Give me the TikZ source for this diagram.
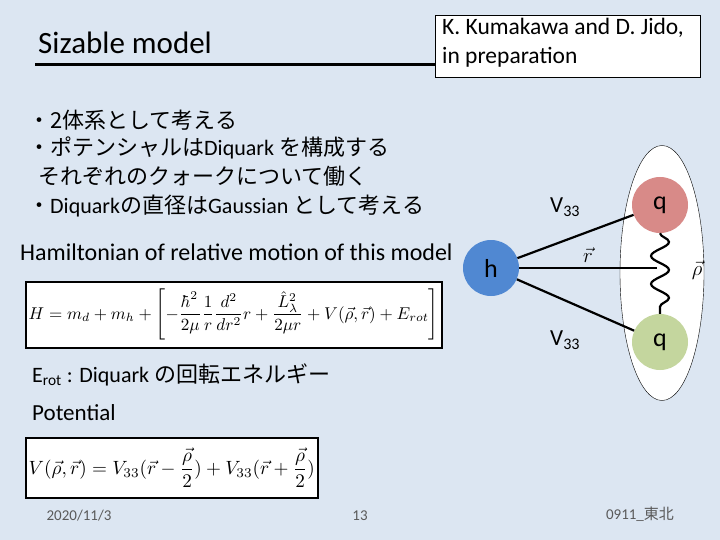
\documentclass[tikz,border=0pt]{standalone}
\usepackage{fontspec}
\setmainfont{Carlito}
\newfontfamily\jp{Noto Sans CJK JP}
\usepackage{amsmath,graphicx}
\usetikzlibrary{decorations.pathmorphing,shapes.geometric}
\begin{document}
\begin{tikzpicture}[x=1pt,y=-1pt,
  txt/.style={anchor=west,inner sep=0pt,font=\fontsize{23}{28}\selectfont},
  eqbox/.style={draw,line width=1.5pt,fill=white,inner sep=3pt,anchor=north west},
  ball/.style={circle,minimum size=56pt,inner sep=0pt,font=\fontsize{26}{28}\selectfont},
  foot/.style={inner sep=0pt,text=black!65,font=\fontsize{15}{17}\selectfont}]
\fill[fill={rgb,255:red,220;green,230;blue,242}] (0,0) rectangle (720,540);
\useasboundingbox (0,0) rectangle (720,540);
\node[txt,font=\fontsize{31}{34}\selectfont] (title) at (38,43) {Sizable model};
\draw[line width=3pt] (35,65) coordinate (l1) -- (440,65) coordinate (l2);
\node[draw,fill=white,minimum width=265pt,minimum height=62pt,anchor=north west] (ref) at (435,15) {};
\node[txt,align=left,anchor=north west,font=\fontsize{23.5}{29}\selectfont] (reft) at (442,18) {K. Kumakawa and D. Jido,\\in preparation};
\node[txt,font=\fontsize{22}{26}\selectfont] (b1) at (28,120) {{\jp ・2体系として考える}};
\node[txt,font=\fontsize{22}{26}\selectfont] (b2) at (28,148) {{\jp ・ポテンシャルは}Diquark {\jp を構成する}};
\node[txt,font=\fontsize{22}{26}\selectfont] (b3) at (28,176) {{\jp \ \ それぞれのクォークについて働く}};
\node[txt,font=\fontsize{22}{26}\selectfont] (b4) at (28,206) {{\jp ・}Diquark{\jp の直径は}Gaussian {\jp として考える}};
\node[txt,font=\fontsize{24}{28}\selectfont] (ham) at (20,252) {Hamiltonian of relative motion of this model};
\node[eqbox,minimum width=416pt,minimum height=66pt,inner sep=2pt] (eq1) at (25,281) {\resizebox{410pt}{!}{$\displaystyle H=m_d+m_h+\left[-\frac{\hbar^2}{2\mu}\frac{1}{r}\frac{d^2}{dr^2}r+\frac{\hat{L}_\lambda^2}{2\mu r}+V(\vec{\rho},\vec{r})+E_{rot}\right]$}};
\node[txt,font=\fontsize{22}{26}\selectfont] (erot) at (32,375) {E$_{\text{rot}}$ : Diquark {\jp の回転エネルギー}};
\node[txt] (pot) at (32,413) {Potential};
\node[eqbox,minimum width=292pt,minimum height=60pt,inner sep=2pt] (eq2) at (25,437) {\resizebox{286pt}{!}{$\displaystyle V(\vec{\rho},\vec{r})=V_{33}(\vec{r}-\frac{\vec{\rho}}{2})+V_{33}(\vec{r}+\frac{\vec{\rho}}{2})$}};
\node[foot] (f1) at (79,516) {2020/11/3};
\node[foot] (f2) at (360,516) {13};
\node[foot] (f3) at (640,514) {0911\_{\jp 東北}};
\node[draw,ellipse,fill=white,minimum width=84pt,minimum height=255pt,inner sep=0pt] (ell) at (662,273) {};
\node[ball,fill={rgb,255:red,216;green,138;blue,136}] (q1) at (660,205) {q};
\node[ball,fill={rgb,255:red,196;green,214;blue,158}] (q2) at (660,342) {q};
\node[ball,fill={rgb,255:red,80;green,136;blue,210}] (h) at (491,268) {h};
\coordinate (rend) at (657,268);
\draw[line width=2.2pt] (h) -- (q1);
\draw[line width=2.2pt] (h) -- (q2);
\draw[line width=2.2pt] (h) -- (rend);
\draw[line width=2.2pt,decorate,decoration={snake,amplitude=9pt,segment length=28pt}] (q1.south) -- (q2.north);
\node[txt] (v1) at (550,207) {V\textsubscript{33}};
\node[txt] (v2) at (550,340) {V\textsubscript{33}};
\node[inner sep=0pt,font=\fontsize{22}{26}\selectfont] (rv) at (588,255) {$\vec{r}$};
\node[inner sep=0pt,font=\fontsize{22}{26}\selectfont] (rho) at (697,270) {$\vec{\rho}$};
\end{tikzpicture}
\end{document}
